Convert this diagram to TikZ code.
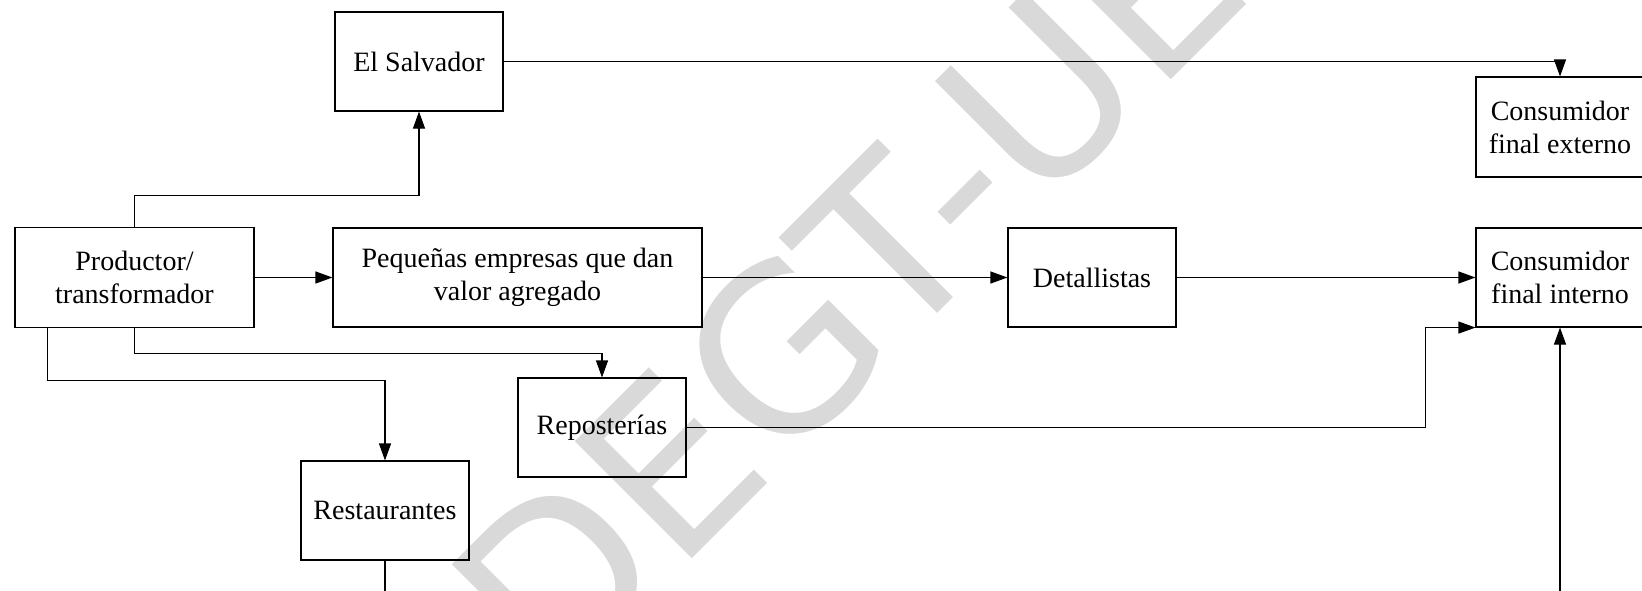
\documentclass[tikz,border=0pt]{standalone}
\usepackage{fontspec}
\setmainfont{Liberation Serif}
\newfontfamily\wmfont{DejaVu Sans}
\usetikzlibrary{arrows.meta,calc}
\definecolor{wm}{RGB}{217,217,217}
\begin{document}
\begin{tikzpicture}[x=1pt,y=-1pt,
  boxnode/.style={draw, line width=1.1pt, inner sep=0pt, align=center,
    font=\fontsize{28}{33}\selectfont, minimum height=99pt},
  conn/.style={line width=1.1pt},
  arr/.style={conn, -{Triangle[length=17pt,width=12pt]}}]
\useasboundingbox (0,0) rectangle (1642,590);
\clip (0,0) rectangle (1642,590);
% watermark
\node[rotate=45, anchor=base west, text=wm, inner sep=0pt,
  font=\wmfont\fontsize{227}{227}\selectfont] (wm) at (553,698) {DEGT-UES};
% boxes
\node[boxnode, minimum width=168pt] (sal) at (419,61.5) {El Salvador};
\node[boxnode, minimum width=239pt, minimum height=100pt] (prod) at (134.5,277.5) {Productor/\\transformador};
\node[boxnode, minimum width=369pt] (peq) at (517.5,277.5) {Pequeñas empresas que dan\\valor agregado};
\node[boxnode, minimum width=168pt] (det) at (1092,277.5) {Detallistas};
\node[boxnode, minimum width=168pt] (cint) at (1560,277.5) {Consumidor\\final interno};
\node[boxnode, minimum width=168pt, minimum height=100pt] (cext) at (1560,127) {Consumidor\\final externo};
\node[boxnode, minimum width=168pt] (rep) at (602,427.5) {Reposterías};
\node[boxnode, minimum width=168pt] (res) at (385,510.5) {Restaurantes};
\coordinate (resout) at (385,610);
\coordinate (cinin) at (1560,610);
% connectors
\draw[arr] (prod.north) -- ++(0,-31.5) -| (sal.south);
\draw[arr] (sal.east) -| (cext.north);
\draw[arr] (prod.east) -- (peq.west);
\draw[arr] (peq.east) -- (det.west);
\draw[arr] (det.east) -- (cint.west);
\draw[arr] (prod.south) -- ++(0,25.5) -| (rep.north);
\draw[arr] ($(prod.south west)+(33,0)$) -- ++(0,52.5) -| (res.north);
\draw[conn] (res.south) -- (resout);
\draw[arr] (rep.east) -| ($(cint.south west)+(-50,0)$) -- (cint.south west);
\draw[arr] (cinin) -- (cint.south);
\end{tikzpicture}
\end{document}
